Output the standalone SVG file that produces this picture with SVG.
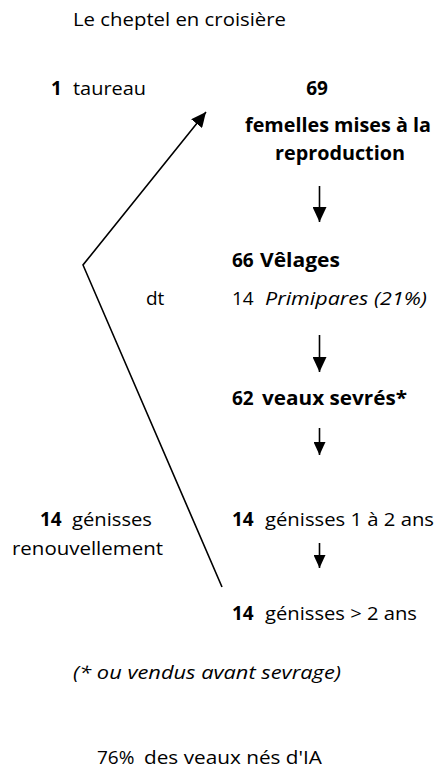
<svg xmlns="http://www.w3.org/2000/svg" width="441" height="770" viewBox="0 0 441 770">
<style>
text{font-family:"Open Sans","Liberation Sans",sans-serif;font-size:19px;fill:#000}
.b{font-weight:bold}
.i{font-style:italic}
.ln{stroke:#000;stroke-width:1.6;fill:none}
</style>
<defs>
<marker id="ah" viewBox="0 0 10 10" refX="10" refY="5" markerWidth="13" markerHeight="12" markerUnits="userSpaceOnUse" orient="auto" preserveAspectRatio="none">
<path d="M0,0 L10,5 L0,10 z" fill="#000"/>
</marker>
<marker id="ah2" viewBox="0 0 10 10" refX="10" refY="5" markerWidth="15" markerHeight="14" markerUnits="userSpaceOnUse" orient="auto" preserveAspectRatio="none">
<path d="M0,0 L10,5 L0,10 z" fill="#000"/>
</marker>
</defs>
<g id="title"><text x="73" y="26" textLength="213" lengthAdjust="spacingAndGlyphs">Le cheptel en croisière</text></g>
<g id="taureau"><text x="51" y="95"><tspan class="b">1</tspan><tspan x="73" textLength="73" lengthAdjust="spacingAndGlyphs">taureau</tspan></text></g>
<g id="femelles">
<text class="b" x="317" y="95" text-anchor="middle">69</text>
<text class="b" x="245" y="132" textLength="186" lengthAdjust="spacingAndGlyphs">femelles mises à la</text>
<text class="b" x="275" y="160" textLength="130" lengthAdjust="spacingAndGlyphs">reproduction</text>
</g>
<g id="velages">
<text class="b" x="232" y="267"><tspan>66</tspan><tspan x="260" textLength="80" lengthAdjust="spacingAndGlyphs">Vêlages</tspan></text>
<text x="146" y="305">dt</text>
<text x="232" y="305"><tspan>14</tspan><tspan class="i" x="265" textLength="162" lengthAdjust="spacingAndGlyphs">Primipares (21%)</tspan></text>
</g>
<g id="veaux"><text class="b" x="232" y="405"><tspan>62</tspan><tspan x="262" textLength="145" lengthAdjust="spacingAndGlyphs">veaux sevrés*</tspan></text></g>
<g id="genisses-renouv">
<text x="40" y="526"><tspan class="b">14</tspan><tspan x="72" textLength="80" lengthAdjust="spacingAndGlyphs">génisses</tspan></text>
<text x="12" y="555" textLength="151" lengthAdjust="spacingAndGlyphs">renouvellement</text>
</g>
<g id="genisses12"><text x="232" y="526"><tspan class="b">14</tspan><tspan x="265" textLength="169" lengthAdjust="spacingAndGlyphs">génisses 1 à 2 ans</tspan></text></g>
<g id="genisses2"><text x="232" y="620"><tspan class="b">14</tspan><tspan x="265" textLength="152" lengthAdjust="spacingAndGlyphs">génisses &gt; 2 ans</tspan></text></g>
<g id="note"><text class="i" x="73" y="679" textLength="268" lengthAdjust="spacingAndGlyphs">(* ou vendus avant sevrage)</text></g>
<g id="ia"><text x="97" y="764"><tspan>76%</tspan><tspan x="144" textLength="178" lengthAdjust="spacingAndGlyphs">des veaux nés d'IA</tspan></text></g>
<g id="connectors">
<path class="ln" d="M222,587 L83,265 L206,112" marker-end="url(#ah2)"/>
<line class="ln" x1="319.5" y1="186" x2="319.5" y2="222" marker-end="url(#ah2)"/>
<line class="ln" x1="319.5" y1="335" x2="319.5" y2="372" marker-end="url(#ah2)"/>
<line class="ln" x1="319.5" y1="428" x2="319.5" y2="455" marker-end="url(#ah)"/>
<line class="ln" x1="319.5" y1="543" x2="319.5" y2="568" marker-end="url(#ah)"/>
</g>
</svg>
